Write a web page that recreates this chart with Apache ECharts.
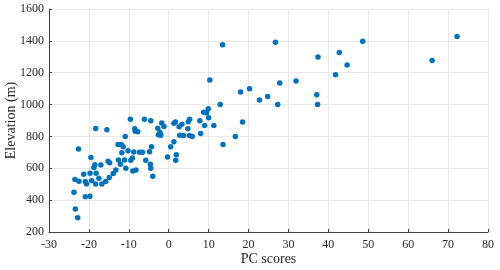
<!DOCTYPE html>
<html><head><meta charset="utf-8">
<script src="https://cdn.jsdelivr.net/npm/echarts@6/dist/echarts.min.js"></script>
<style>html,body{margin:0;padding:0;background:#fff}#c{width:500px;height:270px}</style>
</head><body><div id="c"></div>
<script>
const pcScores = [
-23.75,-23.4,-22.8,-23.5,-22.5,-22.6,
-21.3,-20.9,-20.6,-20.9,-19.75,
-19.5,-19.7,-19.3,
-18.75,-18.5,-18.3,-18.2,-18.3,-17.5,-17,-16.75,-15.8,-15.5,-15.2,-14.8,-14.9,-13.9,-13.25,
-12.7,-11.9,-11.4,-12.6,-12.1,-11.75,-11.1,-10.9,-10.75,-10.2,-9.6,-9.5,-9.1,-9,-8.75,
-8.5,-8.4,-7.75,-8.2,-7.3,-6.6,-6.1,-5.75,-4.8,-4.5,-4.3,-4.6,-4.5,-4,
-2.75,-2.6,-2.2,-2,-1.75,-1.2,-0.3,
0.5,1.3,1.3,1.7,1.9,1.75,2.6,2.75,3.3,3.7,4.8,4.9,5.25,5.2,5.9,7.8,8,8.75,9,9.5,9.9,10,10.3,11.3,12.9,13.5,13.6,16.7,18,18.5,
20.25,22.75,24.8,26.75,27.3,27.8,31.9,37.1,37.3,37.4,41.8,42.75,44.7,48.6,66,72.25
];
const elevation = [
450,344,290,529,519,721,
562,517,502,421,425,
667,569,521,
605,622,850,569,502,537,621,502,517,842,644,635,542,567,590,
750,750,735,652,625,698,652,800,600,710,908,650,664,583,702,
848,833,830,590,700,700,908,650,704,898,735,625,600,550,
852,810,827,808,885,862,671,
735,767,883,890,685,650,860,808,877,806,848,892,908,806,800,898,819,952,869,948,973,917,1155,869,1000,1375,750,800,1079,890,
1100,1029,1050,1392,1000,1135,1148,1062,1000,1298,1188,1327,1248,1398,1277,1427
];
const points = pcScores.map((x, i) => [x, elevation[i]]);
const font = 'Liberation Serif';
const chart = echarts.init(document.getElementById('c'));
chart.setOption({
  animation: false,
  grid: {left: 49, right: 12, top: 9, bottom: 38, containLabel: false, outerBoundsMode: 'none'},
  xAxis: {
    type: 'value', min: -30, max: 80, interval: 10,
    name: 'PC scores', nameLocation: 'middle', nameGap: 20, nameMoveOverlap: false,
    nameTextStyle: {fontFamily: font, fontSize: 14, color: '#262626'},
    axisLine: {show: true, onZero: false, lineStyle: {color: '#404040', width: 1}},
    axisTick: {show: true, inside: true, length: 3, lineStyle: {color: '#404040'}},
    axisLabel: {fontFamily: font, fontSize: 12, color: '#262626', margin: 7},
    splitLine: {show: true, lineStyle: {color: '#e8e8e8', width: 1}}
  },
  yAxis: {
    type: 'value', min: 200, max: 1600, interval: 200,
    name: 'Elevation (m)', nameLocation: 'middle', nameGap: 31, nameMoveOverlap: false,
    nameTextStyle: {fontFamily: font, fontSize: 14, color: '#262626'},
    axisLine: {show: true, onZero: false, lineStyle: {color: '#404040', width: 1}},
    axisTick: {show: true, inside: true, length: 3, lineStyle: {color: '#404040'}},
    axisLabel: {fontFamily: font, fontSize: 12, color: '#262626', margin: 5, formatter: v => String(v)},
    splitLine: {show: true, lineStyle: {color: '#e8e8e8', width: 1}}
  },
  series: [{
    type: 'scatter', data: points, symbol: 'circle', symbolSize: 5.5,
    itemStyle: {color: '#0072BD', opacity: 1}
  }]
});
</script></body></html>
